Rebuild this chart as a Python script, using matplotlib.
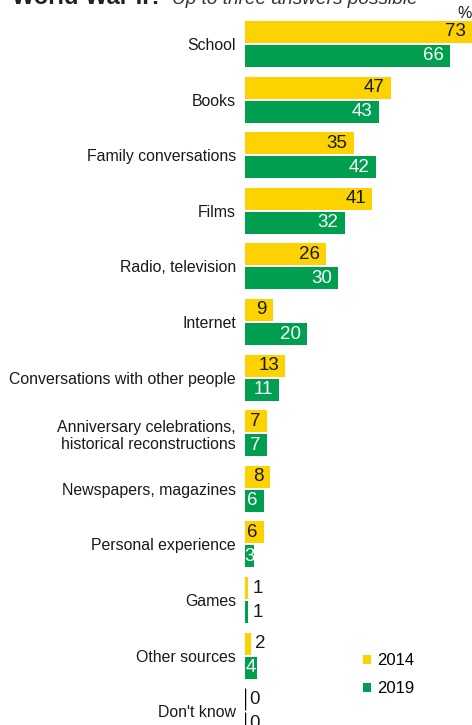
"""Horizontal grouped bars: sources of knowledge about World War II, 2014 vs 2019."""

import numpy as np
from matplotlib import pyplot as plt
from matplotlib import patches as mpatches

plt.rcParams["font.family"] = ["Liberation Sans", "DejaVu Sans"]

YELLOW = "#FCD200"
GREEN = "#009F50"
INK = "#1a1a1a"

categories = [
    "School",
    "Books",
    "Family conversations",
    "Films",
    "Radio, television",
    "Internet",
    "Conversations with other people",
    "Anniversary celebrations,\nhistorical reconstructions",
    "Newspapers, magazines",
    "Personal experience",
    "Games",
    "Other sources",
    "Don't know",
]
values_2014 = [73, 47, 35, 41, 26, 9, 13, 7, 8, 6, 1, 2, 0]
values_2019 = [66, 43, 42, 32, 30, 20, 11, 7, 6, 3, 1, 4, 0]
years = ["2014", "2019"]

W, H = 472, 725
PITCH = 55.6  # px between groups
BAR = 22  # px bar thickness
TOP = 44  # px from top to centre of first group
VAL_FS = 13.5

fig = plt.figure(figsize=(W / 100, H / 100), dpi=100)
ax = fig.add_axes([245 / W, 0, 1 - 245 / W, 1])

y = np.arange(len(categories))
off = 12 / PITCH
h = BAR / PITCH


def label_bars(vals, ypos, inside_color):
    for v, yy in zip(vals, ypos):
        if v == 0:
            ax.vlines(0, yy - h / 2, yy + h / 2, color="black", lw=1.0)
        if v <= 2:
            ax.annotate(str(v), (v, yy), xytext=(3, 0), textcoords="offset points",
                        ha="left", va="center", fontsize=VAL_FS, color=INK)
        elif v < 5:
            ax.text(v / 2, yy, str(v), ha="center", va="center",
                    fontsize=VAL_FS, color=inside_color)
        else:
            ax.annotate(str(v), (v, yy), xytext=(-4.5, 0), textcoords="offset points",
                        ha="right", va="center", fontsize=VAL_FS, color=inside_color)


ax.barh(y - off, values_2014, height=h, color=YELLOW, linewidth=0)
ax.barh(y + off, values_2019, height=h, color=GREEN, linewidth=0)
label_bars(values_2014, y - off, INK)
label_bars(values_2019, y + off, "white")

ax.set_xlim(0, 73)
ax.set_ylim((H - TOP) / PITCH, -TOP / PITCH)
ax.set_yticks(y, categories, fontsize=11.4, color=INK)
ax.tick_params(axis="y", length=0, pad=6.5)
ax.set_xticks([])
for s in ax.spines.values():
    s.set_visible(False)

handles = [mpatches.Patch(color=c, linewidth=0) for c in (YELLOW, GREEN)]
fig.legend(handles, years, loc="upper left", bbox_to_anchor=(363 / W, 1 - 653 / H),
           frameon=False, fontsize=12, handlelength=0.45, handleheight=0.45,
           handletextpad=0.4, labelspacing=0.8, borderpad=0, borderaxespad=0)

fig.text(1.0, 1 - 18 / H, "%", ha="right", va="baseline", fontsize=11.5, color=INK)

# Title band, mostly above the top edge
fig.text(12 / W, 1 - 4 / H, "World War II?", ha="left", va="baseline",
         fontsize=17, fontweight="bold", color="#222222")
fig.text(172 / W, 1 - 4 / H, "Up to three answers possible", ha="left",
         va="baseline", fontsize=13.7, style="italic", color="#333333")

fig.savefig("out.png", dpi=100)
